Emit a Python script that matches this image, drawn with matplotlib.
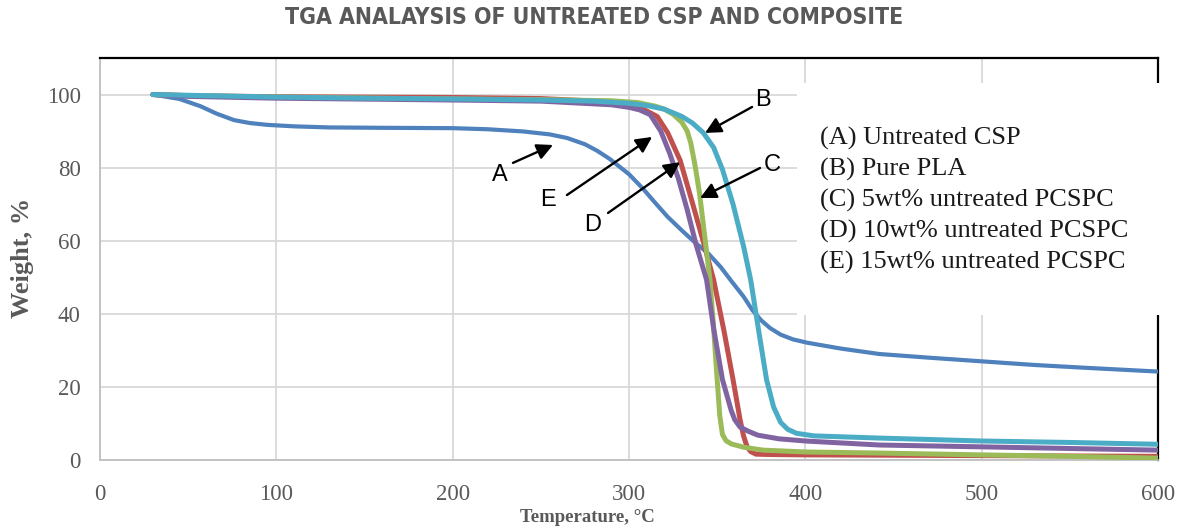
import matplotlib
matplotlib.use("Agg")
import matplotlib.pyplot as plt
from matplotlib.patches import Rectangle

# TGA curves, temperature (C) vs weight (%)
temp_a = [30, 45, 57, 66, 76, 85, 95, 110, 130, 160, 200, 220, 240, 255, 265, 275, 282, 289,
          300, 308, 315, 322, 330, 337, 345, 352, 358, 365, 370, 375, 380, 386, 393, 401, 420,
          442, 470, 500, 530, 560, 600]
wt_a = [100, 98.8, 96.8, 94.8, 93, 92.2, 91.7, 91.3, 91.0, 90.9, 90.8, 90.5, 89.9, 89.1, 88.1,
        86.4, 84.6, 82.4, 78.2, 74.2, 70.3, 66.5, 62.8, 59.7, 56.5, 52.8, 49, 44.7, 41, 38.2,
        36.1, 34.3, 33, 32.1, 30.5, 29, 28, 27, 26, 25.2, 24.2]

temp_b = [30, 50, 100, 150, 200, 250, 280, 300, 310, 320, 330, 336, 342, 348, 353, 359, 365,
          369, 374, 378, 382, 386, 390, 395, 405, 442, 500, 550, 600]
wt_b = [100, 99.8, 99.3, 99, 98.8, 98.5, 98.2, 97.6, 97, 96, 94, 92.2, 89.6, 85.5, 79.5, 70,
        58.4, 49.3, 34, 22, 14.5, 10.3, 8.4, 7.3, 6.6, 6, 5.2, 4.8, 4.3]

temp_c = [30, 50, 100, 200, 250, 290, 305, 315, 320, 325, 330, 333, 335, 337.5, 340, 343, 346,
          348, 350, 351.5, 353, 355, 358, 365, 376, 400, 442, 500, 550, 600]
wt_c = [100, 99.7, 99.3, 98.8, 98.6, 98.3, 97.8, 96.8, 96, 94.6, 92.4, 90, 86.8, 80.5, 73, 61,
        49, 36, 22, 12, 7, 5.3, 4.4, 3.5, 2.7, 2.2, 1.9, 1.4, 1.0, 0.5]

temp_red = [30, 50, 100, 200, 250, 290, 300, 308, 316, 322, 329, 336, 342, 348, 354, 359, 363,
            365, 367, 369, 372, 380, 400, 500, 600]
wt_red = [100, 99.7, 99.4, 99.2, 98.9, 98, 97, 96, 94, 89.5, 82, 70.3, 60, 49.3, 35, 22, 11,
          6.5, 3.6, 2.3, 1.6, 1.5, 1.4, 1.2, 1.0]

temp_d = [30, 50, 100, 200, 250, 290, 300, 306, 312, 318, 323, 328, 333, 338, 344, 348, 353,
          358, 360, 363, 368, 373, 385, 400, 442, 500, 600]
wt_d = [100, 99.5, 99, 98.5, 98.2, 97.2, 96.5, 95.8, 94.5, 90, 84, 77, 68.5, 59, 49.3, 36, 22,
        13.5, 11, 9, 7.8, 6.8, 5.8, 5.2, 4.1, 3.6, 2.7]

legend_lines = ["(A) Untreated CSP", "(B) Pure PLA", "(C) 5wt% untreated PCSPC",
                "(D) 10wt% untreated PCSPC", "(E) 15wt% untreated PCSPC"]

# label, text pos, arrow tail, arrow head (data coords)
callouts = [
    ("A", (226.9, 78.0), (234.2, 81.3), (256.9, 86.2)),
    ("E", (254.1, 71.1), (264.8, 72.5), (313.1, 88.4)),
    ("D", (279.6, 64.3), (288.1, 67.6), (329.0, 81.5)),
    ("B", (376.0, 98.5), (369.8, 96.6), (343.1, 89.5)),
    ("C", (381.1, 80.7), (374.3, 79.9), (340.3, 71.7)),
]

gray = "#595959"
serif = ["Liberation Serif", "DejaVu Serif"]

fig = plt.figure(figsize=(11.86, 5.31), dpi=100)
ax = fig.add_axes([100 / 1186, 1 - 460 / 531, 1058 / 1186, 402 / 531])

kw = dict(solid_capstyle="round", solid_joinstyle="round", zorder=3)
ax.plot(temp_a, wt_a, color="#4F81BD", lw=3.0, **kw)
ax.plot(temp_red, wt_red, color="#C0504D", lw=3.6, **kw)
ax.plot(temp_c, wt_c, color="#9BBB59", lw=3.6, **kw)
ax.plot(temp_d, wt_d, color="#8064A2", lw=3.6, **kw)
ax.plot(temp_b, wt_b, color="#4BACC6", lw=3.6, **kw)

ax.set_xlim(0, 600)
ax.set_ylim(0, 110)
ax.set_xticks(range(0, 601, 100))
ax.set_yticks(range(0, 101, 20))
ax.grid(True, color="#d9d9d9", lw=1.3, zorder=0)
ax.set_axisbelow(True)
ax.tick_params(length=0, labelsize=16.5, labelcolor=gray)
ax.tick_params(axis="y", pad=14)
ax.tick_params(axis="x", pad=17)
for lab in ax.get_xticklabels() + ax.get_yticklabels():
    lab.set_family(serif)

ax.spines["left"].set_color("#bfbfbf")
ax.spines["bottom"].set_color("#bfbfbf")
ax.spines["left"].set_linewidth(1.3)
ax.spines["bottom"].set_linewidth(1.3)
ax.spines["top"].set_color("black")
ax.spines["right"].set_color("black")
ax.spines["top"].set_linewidth(1.6)
ax.spines["right"].set_linewidth(1.6)

# white text box sitting over the plot
box = Rectangle((797 / 1186, 1 - 315 / 531), (1170 - 797) / 1186, (315 - 83) / 531,
                transform=fig.transFigure, facecolor="white", edgecolor="none", zorder=5)
fig.patches.append(box)
for i, t in enumerate(legend_lines):
    fig.text(820 / 1186, 1 - (138 + i * 31.2) / 531, t, family=serif, fontsize=19,
             color="#1a1a1a", va="center", ha="left", zorder=6)

for lab, tpos, tail, head in callouts:
    ax.text(tpos[0], tpos[1], lab, fontsize=17, family=["Liberation Sans", "DejaVu Sans"],
            ha="center", va="center", color="black", zorder=6)
    ax.annotate("", xy=head, xytext=tail,
                arrowprops=dict(arrowstyle="-|>", color="black", lw=1.7,
                                mutation_scale=24, shrinkA=0, shrinkB=0), zorder=6)

fig.text(594 / 1186, 1 - 18 / 531, "TGA ANALAYSIS OF UNTREATED CSP AND COMPOSITE",
         family="DejaVu Sans", fontstretch="condensed", fontweight="bold", fontsize=16.5,
         color=gray, ha="center", va="center")
fig.text(23 / 1186, 1 - 258 / 531, "Weight, %", family=serif, fontweight="bold",
         fontsize=19, color=gray, rotation=90, ha="center", va="center")
fig.text(587 / 1186, 1 - 518 / 531, "Temperature, \u00b0C", family=serif, fontweight="bold",
         fontsize=13.5, color=gray, ha="center", va="center")

fig.savefig("out.png", dpi=100, facecolor="white")
